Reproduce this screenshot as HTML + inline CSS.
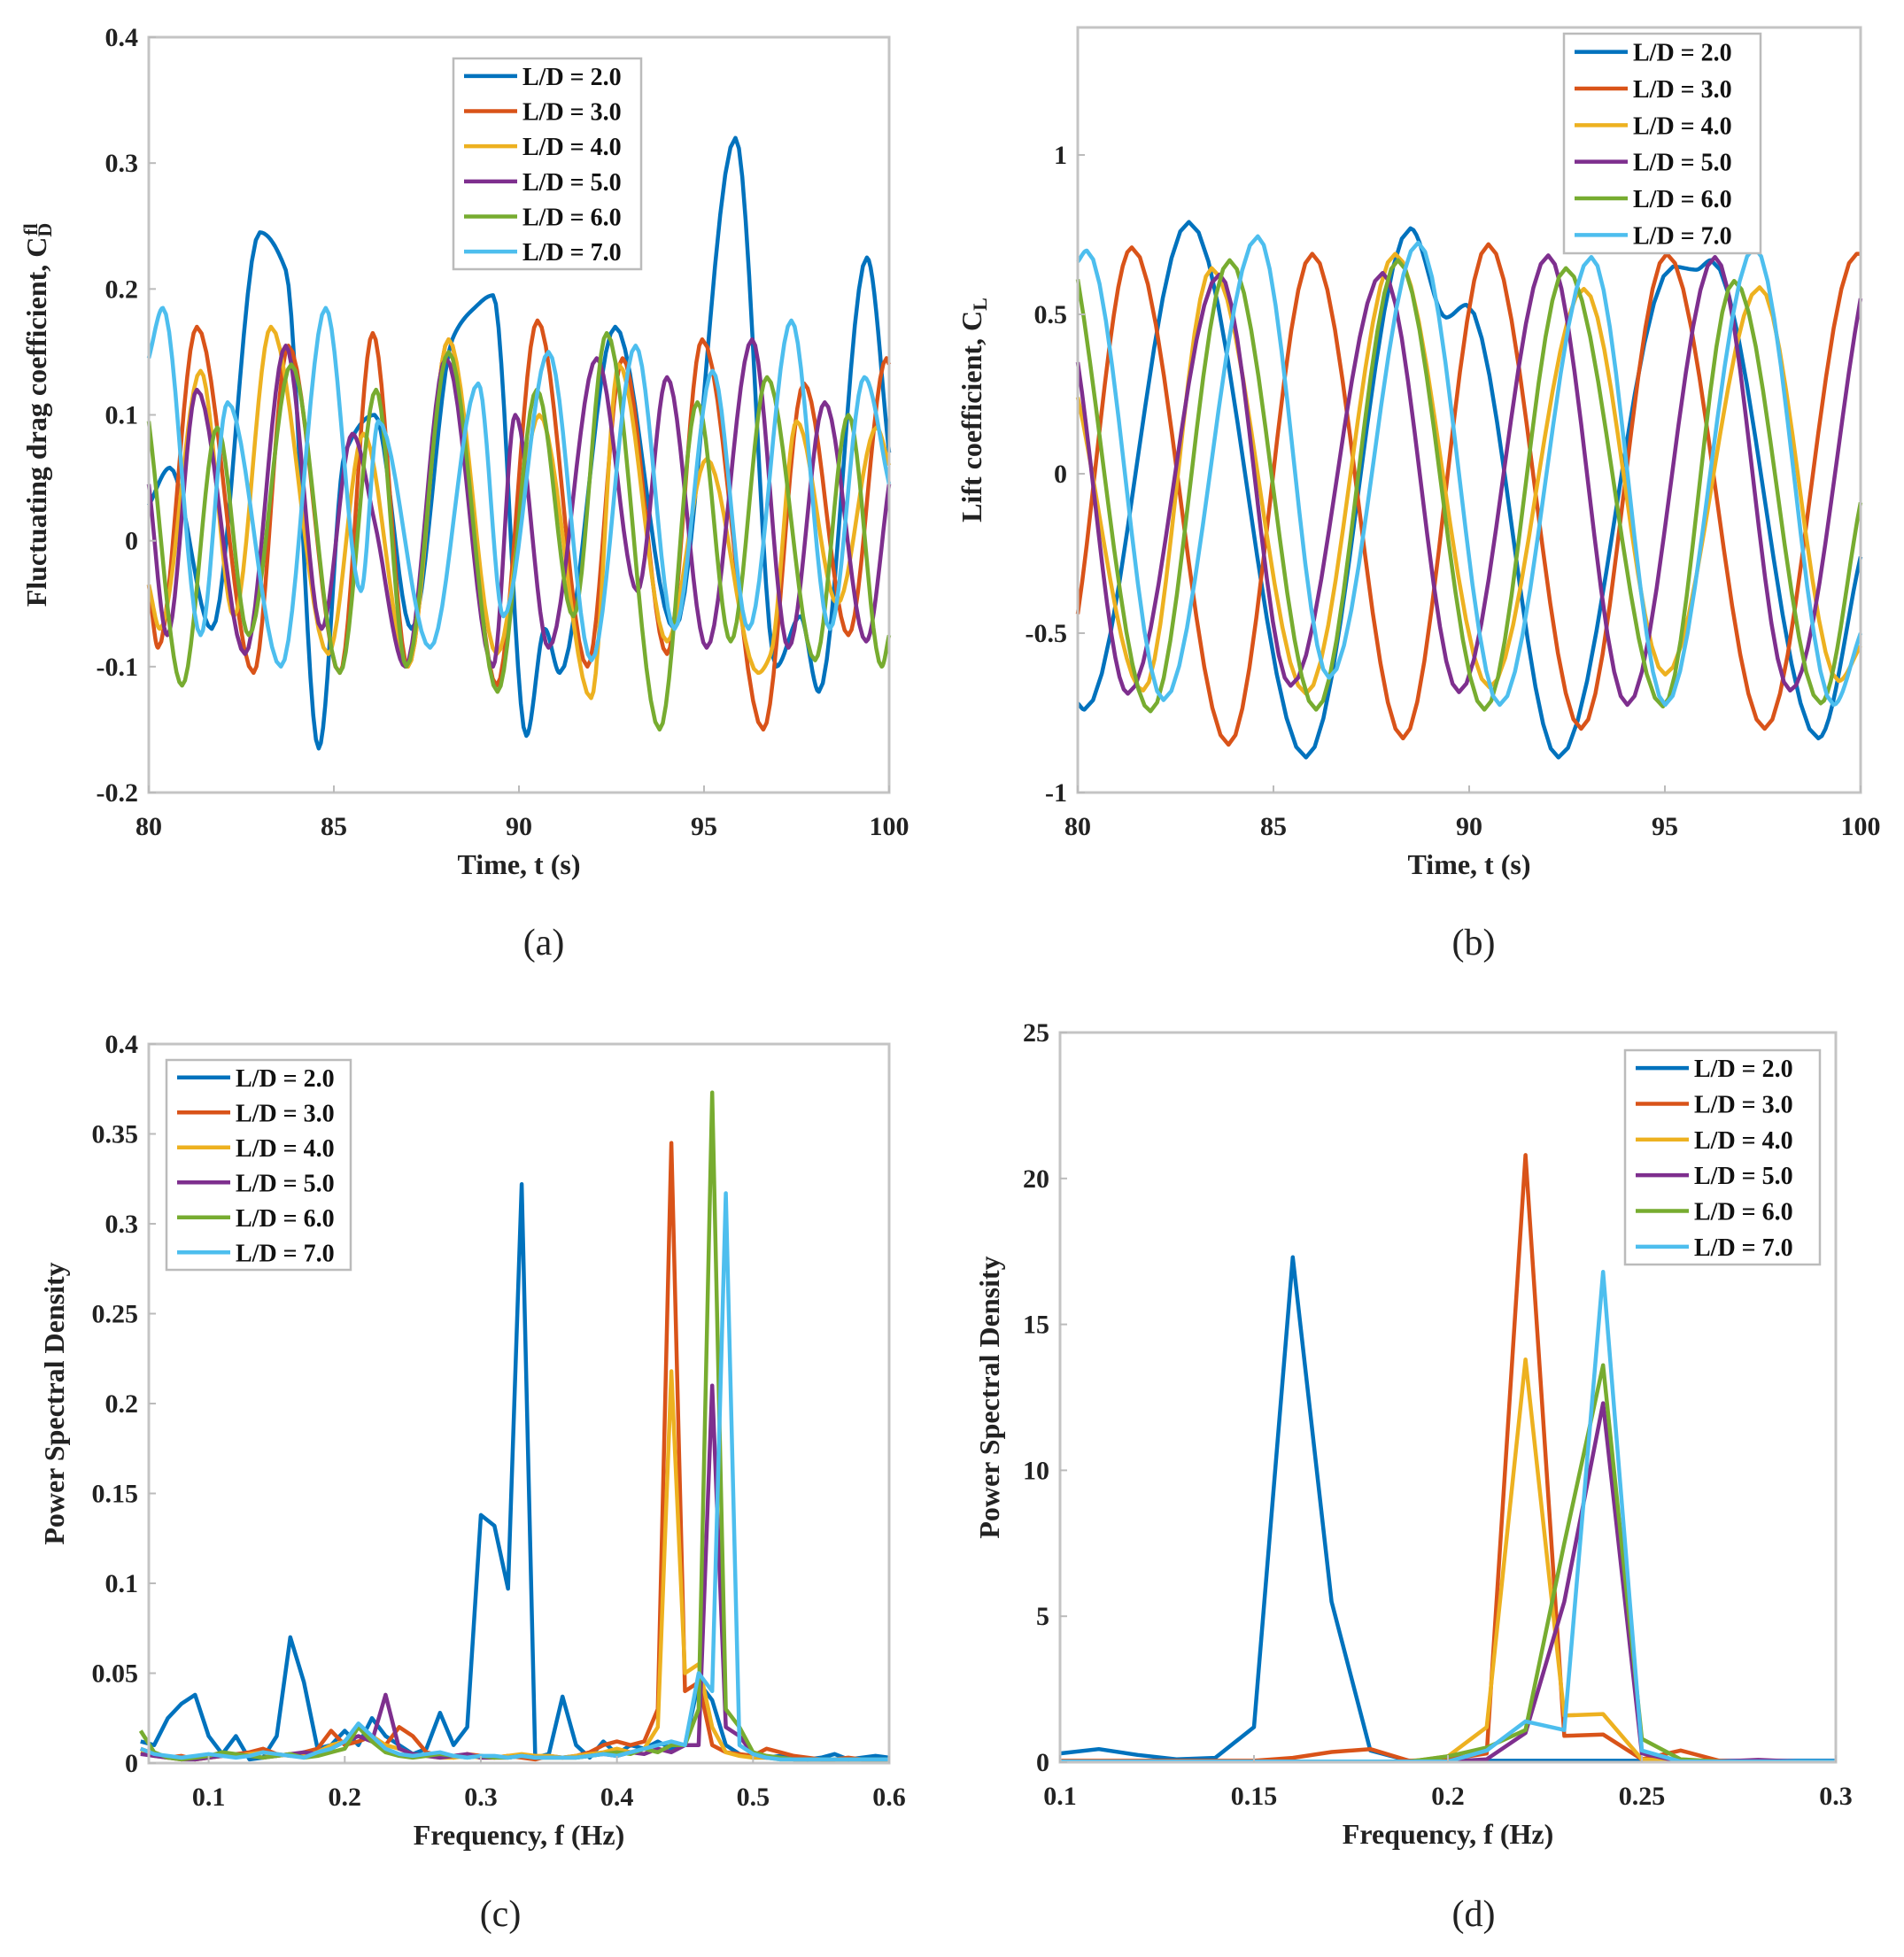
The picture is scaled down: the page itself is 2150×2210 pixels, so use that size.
<!DOCTYPE html>
<html><head><meta charset="utf-8">
<style>
html,body{margin:0;padding:0;background:#fff;}
svg{display:block;}
text{font-family:"Liberation Serif",serif;}
</style></head>
<body>
<svg id="fig" width="2150" height="2210" viewBox="0 0 2150 2210" xmlns="http://www.w3.org/2000/svg"></svg>
<script>
// ---------- DATA ----------
const seriesNames = ["L/D = 2.0","L/D = 3.0","L/D = 4.0","L/D = 5.0","L/D = 6.0","L/D = 7.0"];
const colors = ["#0072BD","#D95319","#EDB120","#7E2F8E","#77AC30","#4DBEEE"];

// (a) fluctuating drag: key times / values per series
const aT0 = [80,80.57,81.7,83.0,83.7,84.59,85.3,86.1,87.1,88.2,88.8,89.3,90.2,90.7,91.1,92.6,94.2,95.85,96.95,97.6,98.1,99.4,100];
const aV0 = [0.028,0.058,-0.07,0.245,0.215,-0.165,0.07,0.1,-0.07,0.16,0.185,0.195,-0.155,-0.07,-0.105,0.17,-0.07,0.32,-0.1,-0.06,-0.12,0.225,0.07];
const aT1 = [80,80.25,81.3,82.83,83.77,85.16,86.05,87.0,88.1,89.4,90.5,91.85,92.8,94.0,94.95,96.6,97.7,98.9,99.93,100];
const aV1 = [-0.035,-0.085,0.17,-0.105,0.155,-0.105,0.165,-0.1,0.16,-0.115,0.175,-0.1,0.145,-0.09,0.16,-0.15,0.125,-0.075,0.145,0.14];
const aT2 = [80,80.3,81.4,82.3,83.3,84.85,85.8,87.0,88.1,89.4,90.55,91.95,92.7,94.0,95.07,96.46,96.8,97.5,98.6,99.66,100];
const aV2 = [-0.035,-0.07,0.135,-0.06,0.17,-0.09,0.085,-0.1,0.16,-0.09,0.1,-0.125,0.14,-0.08,0.065,-0.105,-0.09,0.095,-0.05,0.09,0.06];
const aT3 = [80,80.5,81.3,82.6,83.7,84.67,85.5,86.1,86.93,88.03,89.3,89.9,90.8,92.1,93.2,94.0,95.07,96.3,97.28,98.26,99.38,100];
const aV3 = [0.045,-0.075,0.12,-0.09,0.155,-0.07,0.085,0.015,-0.1,0.145,-0.1,0.1,-0.085,0.145,-0.04,0.13,-0.085,0.16,-0.085,0.11,-0.08,0.045];
const aT4 = [80,80.9,81.85,82.7,83.85,85.16,86.14,86.96,88.1,89.42,90.48,91.47,92.37,93.8,94.82,95.72,96.7,98.0,98.9,99.8,100];
const aV4 = [0.095,-0.115,0.09,-0.075,0.14,-0.105,0.12,-0.1,0.15,-0.12,0.12,-0.06,0.165,-0.15,0.11,-0.08,0.13,-0.095,0.1,-0.1,-0.075];
const aT5 = [80,80.38,81.4,82.13,83.57,84.78,85.73,86.2,87.6,88.9,89.58,90.8,91.96,93.15,94.2,95.23,96.2,97.36,98.4,99.33,100];
const aV5 = [0.145,0.185,-0.075,0.11,-0.1,0.185,-0.04,0.095,-0.085,0.125,-0.06,0.15,-0.095,0.155,-0.07,0.135,-0.07,0.175,-0.07,0.13,0.045];

// (b) lift coefficient
const bT0 = [80,80.17,82.84,85.83,88.5,89.41,89.93,92.28,95.21,95.8,96.18,98.92,100];
const bV0 = [-0.72,-0.74,0.79,-0.89,0.77,0.49,0.53,-0.89,0.65,0.64,0.67,-0.83,-0.26];
const bT1 = [80,81.38,83.85,85.99,88.31,90.49,92.86,95.05,97.55,99.9,100];
const bV1 = [-0.44,0.71,-0.85,0.69,-0.83,0.72,-0.80,0.69,-0.80,0.69,0.69];
const bT2 = [80,81.67,83.42,85.83,88.11,90.52,92.93,95.01,97.42,99.44,100];
const bV2 = [0.24,-0.68,0.645,-0.69,0.69,-0.67,0.58,-0.63,0.585,-0.65,-0.54];
const bT3 = [80,81.28,83.62,85.44,87.79,89.74,92.02,94.04,96.28,98.2,100];
const bV3 = [0.35,-0.69,0.625,-0.665,0.63,-0.685,0.685,-0.725,0.68,-0.68,0.55];
const bT4 = [80,81.86,83.88,86.09,88.18,90.39,92.47,94.95,96.77,98.98,100];
const bV4 = [0.61,-0.745,0.67,-0.74,0.67,-0.74,0.645,-0.73,0.605,-0.72,-0.09];
const bT5 = [80,80.23,82.19,84.6,86.42,88.7,90.78,93.12,95.01,97.29,99.31,100];
const bV5 = [0.665,0.70,-0.71,0.745,-0.64,0.725,-0.725,0.68,-0.725,0.71,-0.725,-0.5];

// (c) PSD of drag, f = 0.05 .. 0.60 step 0.01
const cFreq0 = 0.05, cStep = 0.01;
const cP0 = [0.012,0.01,0.025,0.033,0.038,0.015,0.005,0.015,0.002,0.003,0.015,0.07,0.045,0.008,0.01,0.018,0.01,0.025,0.015,0.01,0.005,0.008,0.028,0.01,0.02,0.138,0.132,0.097,0.322,0.003,0.005,0.037,0.01,0.003,0.012,0.005,0.01,0.008,0.012,0.008,0.01,0.045,0.035,0.01,0.005,0.003,0.003,0.004,0.003,0.002,0.003,0.005,0.002,0.003,0.004,0.003];
const cP1 = [0.008,0.005,0.003,0.004,0.002,0.003,0.004,0.005,0.006,0.008,0.005,0.004,0.006,0.008,0.018,0.01,0.012,0.015,0.01,0.02,0.015,0.006,0.004,0.003,0.005,0.004,0.003,0.004,0.003,0.002,0.004,0.003,0.004,0.006,0.01,0.012,0.01,0.012,0.03,0.345,0.04,0.045,0.01,0.006,0.005,0.004,0.008,0.006,0.004,0.003,0.002,0.002,0.003,0.002,0.002,0.002];
const cP2 = [0.006,0.004,0.003,0.003,0.002,0.003,0.004,0.004,0.005,0.006,0.004,0.005,0.004,0.006,0.01,0.012,0.02,0.015,0.01,0.008,0.005,0.004,0.003,0.003,0.004,0.003,0.003,0.004,0.005,0.004,0.004,0.003,0.004,0.005,0.006,0.008,0.006,0.008,0.02,0.218,0.05,0.055,0.02,0.006,0.004,0.003,0.003,0.002,0.002,0.002,0.002,0.002,0.002,0.002,0.002,0.002];
const cP3 = [0.005,0.004,0.003,0.002,0.002,0.003,0.004,0.005,0.004,0.003,0.004,0.005,0.006,0.005,0.008,0.012,0.015,0.012,0.038,0.008,0.005,0.004,0.003,0.004,0.005,0.003,0.003,0.003,0.004,0.003,0.003,0.003,0.003,0.004,0.005,0.004,0.006,0.005,0.008,0.006,0.01,0.01,0.21,0.02,0.015,0.005,0.003,0.003,0.002,0.002,0.002,0.002,0.002,0.002,0.002,0.002];
const cP4 = [0.018,0.006,0.003,0.002,0.003,0.004,0.006,0.005,0.004,0.003,0.004,0.005,0.003,0.004,0.006,0.008,0.02,0.012,0.006,0.004,0.003,0.004,0.005,0.004,0.003,0.004,0.003,0.003,0.004,0.003,0.003,0.003,0.003,0.004,0.005,0.006,0.005,0.008,0.006,0.01,0.01,0.03,0.373,0.03,0.02,0.006,0.004,0.003,0.002,0.002,0.002,0.002,0.002,0.002,0.002,0.002];
const cP5 = [0.008,0.005,0.004,0.003,0.004,0.005,0.004,0.003,0.004,0.006,0.005,0.004,0.003,0.006,0.008,0.012,0.022,0.015,0.008,0.005,0.004,0.005,0.006,0.004,0.003,0.004,0.004,0.003,0.004,0.003,0.003,0.003,0.003,0.004,0.005,0.004,0.006,0.008,0.01,0.012,0.01,0.05,0.04,0.317,0.01,0.005,0.003,0.002,0.002,0.002,0.002,0.002,0.002,0.002,0.002,0.002];

// (d) PSD of lift, f = 0.10 .. 0.30 step 0.01
const dFreq0 = 0.10, dStep = 0.01;
const dP0 = [0.3,0.45,0.25,0.1,0.15,1.2,17.3,5.5,0.4,0.05,0.05,0.05,0.05,0.05,0.05,0.05,0.05,0.05,0.05,0.05,0.05];
const dP1 = [0.05,0.05,0.05,0.05,0.05,0.05,0.15,0.35,0.45,0.05,0.1,0.3,20.8,0.9,0.95,0.1,0.4,0.05,0.02,0.02,0.02];
const dP2 = [0.02,0.02,0.02,0.02,0.02,0.02,0.02,0.02,0.02,0.02,0.2,1.2,13.8,1.6,1.65,0.1,0.02,0.02,0.02,0.02,0.02];
const dP3 = [0.02,0.02,0.02,0.02,0.02,0.02,0.02,0.02,0.02,0.02,0.02,0.1,1.0,5.5,12.3,0.3,0.02,0.02,0.08,0.02,0.02];
const dP4 = [0.02,0.02,0.02,0.02,0.02,0.02,0.02,0.02,0.02,0.02,0.2,0.5,1.1,7.5,13.6,0.8,0.1,0.02,0.02,0.02,0.02];
const dP5 = [0.02,0.02,0.02,0.02,0.02,0.02,0.02,0.02,0.02,0.02,0.02,0.4,1.4,1.1,16.8,0.4,0.02,0.02,0.02,0.02,0.02];

const aTicksX = ["80","85","90","95","100"];
const aTicksY = ["-0.2","-0.1","0","0.1","0.2","0.3","0.4"];
const bTicksY = ["-1","-0.5","0","0.5","1"];
const cTicksX = ["0.1","0.2","0.3","0.4","0.5","0.6"];
const cTicksY = ["0","0.05","0.1","0.15","0.2","0.25","0.3","0.35","0.4"];
const dTicksX = ["0.1","0.15","0.2","0.25","0.3"];
const dTicksY = ["0","5","10","15","20","25"];

// ---------- DRAWING ----------
const NS = "http://www.w3.org/2000/svg";
const svg = document.getElementById("fig");
function mk(tag, parent){ const e=document.createElementNS(NS,tag); (parent||svg).appendChild(e); return e; }

function monotone(xs, ys, n){
  const m=xs.length, d=[], s=[];
  for(let i=0;i<m-1;i++) d.push((ys[i+1]-ys[i])/(xs[i+1]-xs[i]));
  for(let i=0;i<m;i++){
    if(i===0) s.push(d[0]); else if(i===m-1) s.push(d[m-2]);
    else s.push(d[i-1]*d[i]<=0?0:2/(1/d[i-1]+1/d[i]));
  }
  const out=[];
  for(let i=0;i<m-1;i++){
    const h=xs[i+1]-xs[i];
    for(let k=0;k<n;k++){
      const t=k/n, t2=t*t, t3=t2*t;
      const y=(2*t3-3*t2+1)*ys[i]+(t3-2*t2+t)*h*s[i]+(-2*t3+3*t2)*ys[i+1]+(t3-t2)*h*s[i+1];
      out.push([xs[i]+t*h,y]);
    }
  }
  out.push([xs[m-1],ys[m-1]]);
  return out;
}

function panel(cfg){
  const g=mk("g");
  
  
  const X=v=>cfg.x0+(v-cfg.xmin)/(cfg.xmax-cfg.xmin)*(cfg.x1-cfg.x0);
  const Y=v=>cfg.y1-(v-cfg.ymin)/(cfg.ymax-cfg.ymin)*(cfg.y1-cfg.y0);
  cfg.series.forEach((pts,i)=>{
    const p=mk("polyline",g);
    
    
    p.setAttribute("points", pts.map(q=>X(q[0]).toFixed(1)+","+Y(q[1]).toFixed(1)).join(" "));
    p.setAttribute("fill","none"); p.setAttribute("stroke",colors[i]);
    p.setAttribute("stroke-width","4.5"); p.setAttribute("stroke-linejoin","round");
  });
  const r=mk("rect",g);
  
  
  r.setAttribute("x",cfg.x0); r.setAttribute("y",cfg.y0);
  r.setAttribute("width",cfg.x1-cfg.x0); r.setAttribute("height",cfg.y1-cfg.y0);
  r.setAttribute("fill","none"); r.setAttribute("stroke","#c4c4c4"); r.setAttribute("stroke-width","3");
  cfg.xt.forEach(s=>{
    const v=parseFloat(s), x=X(v);
    const t=mk("text",g);
    
    
    t.setAttribute("x",x); t.setAttribute("y",cfg.y1+48); t.setAttribute("text-anchor","middle");
    t.setAttribute("font-size","30"); t.setAttribute("font-weight","bold"); t.setAttribute("fill","#222");
    t.textContent=s;
    const l=mk("line",g); l.setAttribute("x1",x); l.setAttribute("x2",x);
    
    
    l.setAttribute("y1",cfg.y1); l.setAttribute("y2",cfg.y1-8); l.setAttribute("stroke","#bbb"); l.setAttribute("stroke-width","2");
  });
  cfg.yt.forEach(s=>{
    const v=parseFloat(s), y=Y(v);
    const t=mk("text",g);
    
    
    t.setAttribute("x",cfg.x0-12); t.setAttribute("y",y+10); t.setAttribute("text-anchor","end");
    t.setAttribute("font-size","30"); t.setAttribute("font-weight","bold"); t.setAttribute("fill","#222");
    t.textContent=s;
    const l=mk("line",g); l.setAttribute("x1",cfg.x0); l.setAttribute("x2",cfg.x0+8);
    
    
    l.setAttribute("y1",y); l.setAttribute("y2",y); l.setAttribute("stroke","#bbb"); l.setAttribute("stroke-width","2");
  });
  const xl=mk("text",g);
  
  
  xl.setAttribute("x",(cfg.x0+cfg.x1)/2); xl.setAttribute("y",cfg.y1+92); xl.setAttribute("text-anchor","middle");
  xl.setAttribute("font-size","32"); xl.setAttribute("font-weight","bold"); xl.setAttribute("fill","#222");
  xl.textContent=cfg.xlabel;
  const yl=mk("text",g);
  
  
  const cy=(cfg.y0+cfg.y1)/2;
  yl.setAttribute("transform","translate("+cfg.ylx+","+cy+") rotate(-90)");
  yl.setAttribute("text-anchor","middle"); yl.setAttribute("font-size","32"); yl.setAttribute("font-weight","bold"); yl.setAttribute("fill","#222");
  yl.innerHTML=cfg.ylabel;
  const cp=mk("text",g);
  
  
  cp.setAttribute("x",cfg.capx); cp.setAttribute("y",cfg.capy); cp.setAttribute("text-anchor","middle");
  cp.setAttribute("font-size","42"); cp.setAttribute("fill","#222");
  cp.textContent=cfg.caption;
  const L=cfg.leg, lg=mk("g",g);
  
  
  const lb=mk("rect",lg);
  lb.setAttribute("x",L.x); lb.setAttribute("y",L.y); lb.setAttribute("width",L.w); lb.setAttribute("height",L.h);
  lb.setAttribute("fill","#fff"); lb.setAttribute("stroke","#bbb"); lb.setAttribute("stroke-width","2.5");
  const rh=L.h/6;
  seriesNames.forEach((nm,i)=>{
    const yy=L.y+rh*(i+0.5);
    const e=mk("g",lg);
    
    
    const ln=mk("line",e); ln.setAttribute("x1",L.x+12); ln.setAttribute("x2",L.x+72);
    ln.setAttribute("y1",yy); ln.setAttribute("y2",yy); ln.setAttribute("stroke",colors[i]); ln.setAttribute("stroke-width","4.5");
    const tx=mk("text",e); tx.setAttribute("x",L.x+78); tx.setAttribute("y",yy+10);
    tx.setAttribute("font-size","28"); tx.setAttribute("font-weight","bold"); tx.setAttribute("fill","#111");
    tx.textContent=nm;
  });
}

function psd(f0,step,arr){ return arr.map((v,i)=>[f0+i*step,v]); }

panel({name:"panel-a",x0:168,x1:1004,y0:42,y1:895,xmin:80,xmax:100,ymin:-0.2,ymax:0.4,
  series:[[aT0,aV0],[aT1,aV1],[aT2,aV2],[aT3,aV3],[aT4,aV4],[aT5,aV5]].map(s=>monotone(s[0],s[1],12)),
  xt:aTicksX,yt:aTicksY,xlabel:"Time, t (s)",ylx:52,
  ylabel:'Fluctuating drag coefficient, C<tspan baseline-shift="-6" font-size="22">D</tspan><tspan baseline-shift="10" font-size="22" dx="-14">fl</tspan>',
  caption:"(a)",capx:614,capy:1078,leg:{x:512,y:66,w:212,h:238}});

panel({name:"panel-b",x0:1217,x1:2101,y0:31,y1:895,xmin:80,xmax:100,ymin:-1,ymax:1.4,
  series:[[bT0,bV0],[bT1,bV1],[bT2,bV2],[bT3,bV3],[bT4,bV4],[bT5,bV5]].map(s=>monotone(s[0],s[1],12)),
  xt:aTicksX,yt:bTicksY,xlabel:"Time, t (s)",ylx:1108,
  ylabel:'Lift coefficient, C<tspan baseline-shift="-6" font-size="22">L</tspan>',
  caption:"(b)",capx:1664,capy:1078,leg:{x:1766,y:38,w:222,h:248}});

panel({name:"panel-c",x0:168,x1:1004,y0:1179,y1:1991,xmin:0.056,xmax:0.6,ymin:0,ymax:0.4,
  series:[cP0,cP1,cP2,cP3,cP4,cP5].map(a=>psd(cFreq0,cStep,a)),
  xt:cTicksX,yt:cTicksY,xlabel:"Frequency, f (Hz)",ylx:72,ylabel:"Power Spectral Density",
  caption:"(c)",capx:565,capy:2175,leg:{x:188,y:1197,w:208,h:237}});

panel({name:"panel-d",x0:1197,x1:2073,y0:1166,y1:1990,xmin:0.1,xmax:0.3,ymin:0,ymax:25,
  series:[dP0,dP1,dP2,dP3,dP4,dP5].map(a=>psd(dFreq0,dStep,a)),
  xt:dTicksX,yt:dTicksY,xlabel:"Frequency, f (Hz)",ylx:1128,ylabel:"Power Spectral Density",
  caption:"(d)",capx:1664,capy:2175,leg:{x:1835,y:1186,w:220,h:242}});
</script>
</body></html>
